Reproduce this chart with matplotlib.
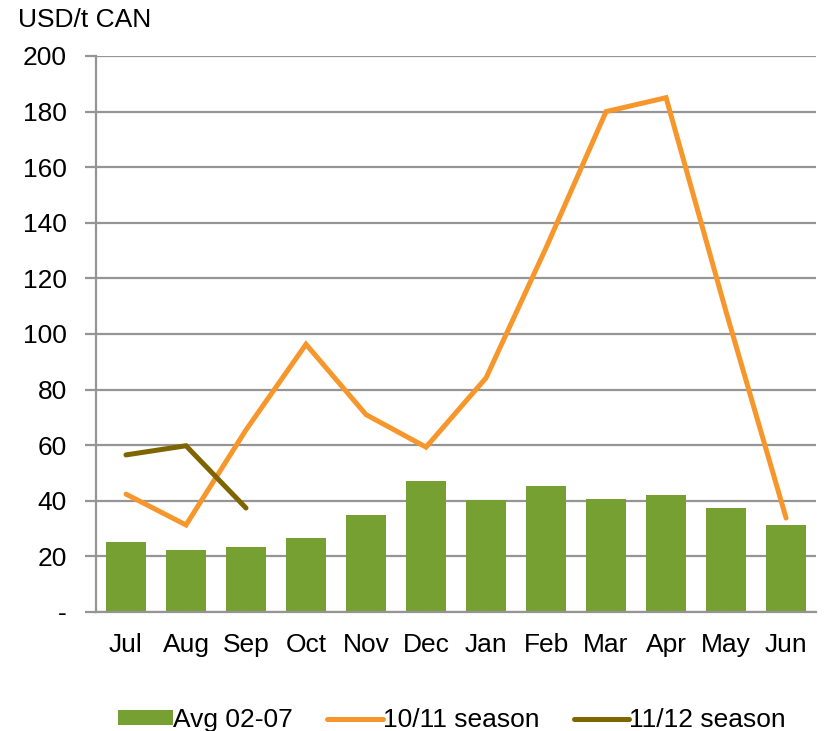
import numpy as np
import matplotlib
matplotlib.use("Agg")
import matplotlib.pyplot as plt

plt.rcParams['font.family'] = ['Liberation Sans', 'DejaVu Sans']

months = ["Jul", "Aug", "Sep", "Oct", "Nov", "Dec", "Jan", "Feb", "Mar", "Apr", "May", "Jun"]
avg_02_07 = [25.3, 22.4, 23.5, 26.6, 34.9, 47.1, 40.3, 45.3, 40.6, 42.0, 37.4, 31.2]
season_10_11 = [42.4, 31.3, 65.5, 96.3, 71.0, 59.3, 84.2, 131.0, 180.0, 185.0, 108.0, 33.8]
season_11_12 = [56.5, 59.8, 37.4]
yticks = [0, 20, 40, 60, 80, 100, 120, 140, 160, 180, 200]
ylabels = ["-"] + [str(v) for v in yticks[1:]]

green = "#77A033"
orange = "#F7962B"
olive = "#7F6500"
grid = "#959595"
fs = 19

fig = plt.figure(figsize=(8.26, 7.31), dpi=100)
ax = fig.add_axes((0.1162, 0.1628, 0.8718, 0.7606))

x = np.arange(len(months))
b = ax.bar(x, avg_02_07, width=0.66, color=green, label="Avg 02-07", zorder=2)
l1, = ax.plot(x, season_10_11, color=orange, lw=3.6, solid_capstyle='round',
              solid_joinstyle='miter', label="10/11 season", zorder=3)
l2, = ax.plot(x[:len(season_11_12)], season_11_12, color=olive, lw=3.6,
              solid_capstyle='round', solid_joinstyle='miter', label="11/12 season", zorder=4)

ax.set_xlim(-0.5, len(months) - 0.5)
ax.set_ylim(0, 200)
ax.set_yticks(yticks)
ax.set_yticklabels(ylabels)
ax.set_xticks(x)
ax.set_xticklabels(months)
ax.yaxis.grid(True, color=grid, lw=1.6, zorder=0)
ax.set_axisbelow(True)

for s in ["top", "right"]:
    ax.spines[s].set_visible(False)
ax.spines["left"].set_color(grid)
ax.spines["bottom"].set_color(grid)
ax.spines["left"].set_linewidth(1.6)
ax.spines["bottom"].set_linewidth(1.6)

ax.tick_params(axis='y', length=8, width=1.6, color=grid, labelsize=fs, pad=13)
ax.tick_params(axis='x', length=0, labelsize=fs, pad=15)

fig.text(0.022, 0.972, "USD/t CAN", fontsize=fs, va='center', ha='left')

fig.legend([b, l1, l2], ["Avg 02-07", "10/11 season", "11/12 season"],
           loc='center', bbox_to_anchor=(0.547, 0.015), ncol=3, frameon=False,
           fontsize=fs, handlelength=2.1, handletextpad=0.0, columnspacing=1.3,
           handleheight=0.5)

fig.savefig("out.png", dpi=100)
